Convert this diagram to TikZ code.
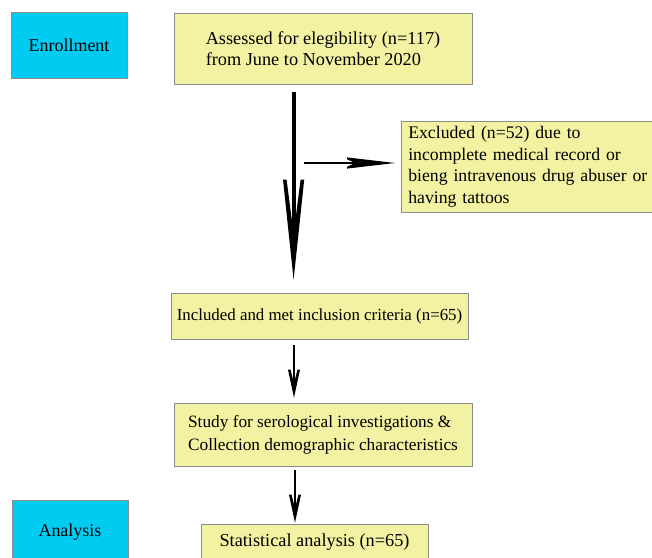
\documentclass[tikz,border=0pt]{standalone}
\usepackage{fontspec}
\setmainfont{Liberation Serif}
\usepackage{tikz}
\usetikzlibrary{positioning,calc,decorations.markings}
\usepackage{xcolor}
\definecolor{phasecyan}{HTML}{00CCF2}
\definecolor{boxyellow}{HTML}{F2F2A2}
\definecolor{boxedge}{HTML}{8C8C8C}

\tikzset{
    phase/.style={draw=boxedge, fill=phasecyan, minimum width=2.9cm, font=\fontsize{12.8}{15}\selectfont},
    flowbox/.style={draw=boxedge, fill=boxyellow, align=left},
    % barbed head: length / half width / back thickness / inset
    barbhead/.style args={#1/#2/#3/#4}{postaction={decorate}, decoration={markings,
        mark=at position 1 with {\fill (0,0) -- (-#1,#2) -- (-#1,#2-#3) -- (-#4,0) -- (-#1,-#2+#3) -- (-#1,-#2) -- cycle;}}},
    bigarrow/.style={line width=2.8pt, shorten >=0.6cm, barbhead={2.5/0.265/0.09/1.15}},
    smallarrow/.style={line width=2.1pt, shorten >=0.2cm, barbhead={0.7/0.15/0.065/0.36}},
    sidearrow/.style={line width=1.5pt, shorten >=0.3cm, barbhead={1.2/0.14/0.045/1.0}}
}

\begin{document}
\begin{tikzpicture}
    \clip (0,0) rectangle (16.3,-13.95);
    \fill[white] (0,0) rectangle (16.3,-13.95);

    % Phases
    \node[phase, minimum height=1.65cm] (enroll) at (1.725,-1.125) {Enrollment};
    \node[phase, minimum height=1.6cm] (analysis) at (1.75,-13.3) {Analysis};

    % Assessed
    \node[flowbox, font=\fontsize{13}{15.3}\selectfont, minimum width=7.45cm, minimum height=1.775cm] (assess) at (8.075,-1.2125)
        {Assessed for elegibility (n=117)\\from June to November 2020};

    % Excluded
    \node[flowbox, font=\fontsize{12.6}{15.4}\selectfont, anchor=north west, text width=6.6cm, inner xsep=0.175cm,
          minimum height=2.275cm] (excl) at (10.025,-3.025)
        {Excluded (n=52) due to\\incomplete medical record or\\bieng intravenous drug abuser or\\having tattoos};

    % Included
    \node[flowbox, font=\fontsize{12}{14.5}\selectfont, minimum width=7.425cm, minimum height=1.15cm] (incl) at (7.9875,-7.9)
        {Included and met inclusion criteria (n=65)};

    % Study
    \node[flowbox, font=\fontsize{12.3}{16.2}\selectfont, minimum width=7.45cm, minimum height=1.575cm] (study) at (8.075,-10.8625)
        {Study for serological investigations \&\\Collection demographic characteristics};

    % Statistical analysis
    \node[flowbox, font=\fontsize{13}{15}\selectfont, minimum width=5.675cm, minimum height=0.9cm] (stat) at (7.8625,-13.55)
        {Statistical analysis (n=65)};

    % Arrows
    \coordinate (trunk) at (7.34,0);
    \coordinate (branch) at (7.6,-4.075);
    \draw[bigarrow] ($(assess.south -| trunk)+(0,-0.2)$) -- ($(incl.north -| trunk)+(0,0.325)$);
    \draw[sidearrow] (branch) -- ($(excl.west |- branch)+(-0.15,0)$);
    \draw[smallarrow] ($(incl.south -| trunk)+(0.01,-0.15)$) -- ($(study.north -| trunk)+(0.01,0.125)$);
    \draw[smallarrow] ($(study.south -| trunk)+(0.035,-0.1)$) -- ($(stat.north -| trunk)+(0.035,0.025)$);
\end{tikzpicture}
\end{document}
